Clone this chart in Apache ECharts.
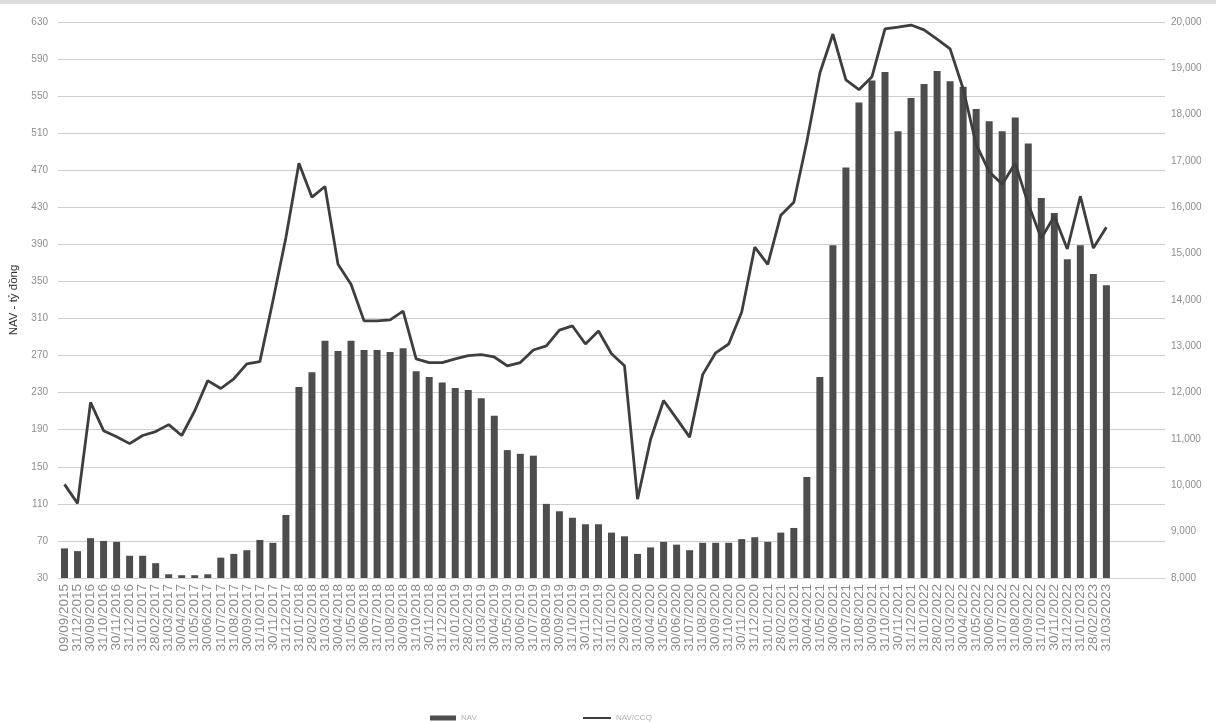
<!DOCTYPE html>
<html>
<head>
<meta charset="utf-8">
<script src="https://cdn.jsdelivr.net/npm/echarts@6/dist/echarts.min.js"></script>
<style>
html,body{margin:0;padding:0;background:#fff;}
#c{width:1216px;height:722px;}
</style>
</head>
<body>
<div id="c"></div>
<script>
var categories = ['09/09/2015','31/12/2015','30/09/2016','31/10/2016','30/11/2016','31/12/2016',
'31/01/2017','28/02/2017','31/03/2017','30/04/2017','31/05/2017','30/06/2017','31/07/2017','31/08/2017','30/09/2017','31/10/2017','30/11/2017','31/12/2017',
'31/01/2018','28/02/2018','31/03/2018','30/04/2018','31/05/2018','30/06/2018','31/07/2018','31/08/2018','30/09/2018','31/10/2018','30/11/2018','31/12/2018',
'31/01/2019','28/02/2019','31/03/2019','30/04/2019','31/05/2019','30/06/2019','31/07/2019','31/08/2019','30/09/2019','31/10/2019','30/11/2019','31/12/2019',
'31/01/2020','29/02/2020','31/03/2020','30/04/2020','31/05/2020','30/06/2020','31/07/2020','31/08/2020','30/09/2020','31/10/2020','30/11/2020','31/12/2020',
'31/01/2021','28/02/2021','31/03/2021','30/04/2021','31/05/2021','30/06/2021','31/07/2021','31/08/2021','30/09/2021','31/10/2021','30/11/2021','31/12/2021',
'31/01/2022','28/02/2022','31/03/2022','30/04/2022','31/05/2022','30/06/2022','31/07/2022','31/08/2022','30/09/2022','31/10/2022','30/11/2022','31/12/2022',
'31/01/2023','28/02/2023','31/03/2023'];

var navValues = [62,59,73,70,69,54,
54,46,34,33,33,34,52,56,60,71,68,98,
236,252,286,275,286,276,276,274,278,253,247,241,
235,233,224,205,168,164,162,110,102,95,88,88,
79,75,56,63,69,66,60,68,68,68,72,74,
69,79,84,139,247,389,473,543,567,576,512,548,
563,577,566,560,536,523,512,527,499,440,424,374,
389,358,346];

var navPerUnit = [10020,9610,11790,11180,11050,10900,
11075,11160,11310,11075,11610,12260,12090,12300,12620,12670,13980,15350,
16950,16220,16450,14770,14340,13550,13550,13570,13760,12730,12650,12650,
12730,12800,12820,12770,12580,12650,12920,13010,13350,13440,13050,13330,
12840,12580,9700,10990,11830,11440,11040,12390,12860,13050,13740,15140,
14770,15830,16110,17420,18900,19740,18750,18540,18820,19850,19890,19935,
19830,19630,19420,18560,17360,16770,16500,16950,16070,15330,15810,15100,
16240,15120,15570];

var leftAxisName = 'NAV - tỷ đồng';
var seriesNames = ['NAV', 'NAV/CCQ'];

var chart = echarts.init(document.getElementById('c'));
var axisCats = categories.concat(['', '', '', '']);
var labelColor = '#8f8f8f';
var font = 'Liberation Sans, Arial, sans-serif';

chart.setOption({
  backgroundColor: '#ffffff',
  animation: false,
  textStyle: { fontFamily: font },
  graphic: [
    { type: 'rect', left: 0, top: 0, shape: { width: 1216, height: 4 }, style: { fill: '#dcdcdc' }, silent: true }
  ],
  grid: { left: 58, right: 51, top: 22, bottom: 144, containLabel: false },
  legend: [
    { data: [seriesNames[0]], left: 425, top: 709, itemWidth: 26, itemHeight: 5, icon: 'rect', itemGap: 4,
      textStyle: { color: '#b0b0b0', fontSize: 8, fontFamily: font } },
    { data: [seriesNames[1]], left: 578, top: 709, itemWidth: 28, itemHeight: 2, icon: 'rect', itemGap: 4,
      textStyle: { color: '#b0b0b0', fontSize: 8, fontFamily: font } }
  ],
  xAxis: {
    type: 'category',
    data: axisCats,
    boundaryGap: true,
    axisLine: { show: true, lineStyle: { color: '#d4d4d4', width: 1 } },
    axisTick: { show: false },
    axisLabel: { interval: 0, rotate: 90, color: '#8c8c8c', fontSize: 13.5, margin: 6, fontFamily: font },
    splitLine: { show: false }
  },
  yAxis: [
    {
      type: 'value', min: 30, max: 630, interval: 40,
      name: leftAxisName, nameLocation: 'middle', nameGap: 38, nameRotate: 90,
      nameTextStyle: { color: '#333', fontSize: 11.5, fontFamily: font },
      axisLine: { show: false }, axisTick: { show: false },
      axisLabel: { color: labelColor, fontSize: 10, margin: 10, fontFamily: font },
      splitLine: { show: true, lineStyle: { color: '#cfcfcf', width: 1.2 } }
    },
    {
      type: 'value', min: 8000, max: 20000, interval: 1000, position: 'right',
      axisLine: { show: false }, axisTick: { show: false },
      axisLabel: { color: labelColor, fontSize: 10, margin: 6, fontFamily: font,
        formatter: function (v) { return v.toLocaleString('en-US'); } },
      splitLine: { show: false }
    }
  ],
  series: [
    {
      name: seriesNames[0], type: 'bar', yAxisIndex: 0, data: navValues,
      barWidth: 7,
      itemStyle: { color: '#4d4d4d' }
    },
    {
      name: seriesNames[1], type: 'line', yAxisIndex: 1, data: navPerUnit,
      showSymbol: false, symbol: 'none',
      lineStyle: { color: '#3e3e3e', width: 2.8 },
      itemStyle: { color: '#3e3e3e' }
    }
  ]
});
</script>
</body>
</html>
